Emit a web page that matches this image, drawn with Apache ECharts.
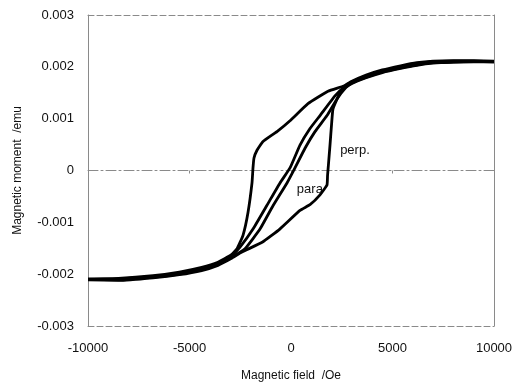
<!DOCTYPE html>
<html>
<head>
<meta charset="utf-8">
<script src="https://cdn.jsdelivr.net/npm/echarts@6/dist/echarts.min.js"></script>
<style>
  html, body { margin: 0; padding: 0; background: #fff; }
  #chart { width: 517px; height: 387px; }
</style>
</head>
<body>
<div id="chart"></div>
<script>
// Hysteresis loops: magnetic moment (emu) versus applied field (Oe)
const fieldTicks = [-10000, -5000, 0, 5000, 10000];
const momentTicks = [-0.003, -0.002, -0.001, 0, 0.001, 0.002, 0.003];

// perpendicular: descending branch (+H -> -H)
const perpDownField = [10000, 9000, 8000, 7000, 6200, 5400, 4500, 3700, 3000, 2600, 1823, 837, -49, -690, -1379, -1675, -1823, -1872, -1921, -2118, -2364, -2660, -2950, -3600, -4400, -5500, -6800, -8500, -10000];
const perpDownMoment = [0.00211, 0.00212, 0.00212, 0.00211, 0.00208, 0.00202, 0.00194, 0.00184, 0.00172, 0.00163, 0.00153, 0.00129, 0.00096, 0.00075, 0.00056, 0.00039, 0.00024, 0.00005, -0.00024, -0.00081, -0.00125, -0.00151, -0.00163, -0.00177, -0.00187, -0.00196, -0.00203, -0.00208, -0.00209];

// perpendicular: ascending branch (-H -> +H)
const perpUpField = [-10000, -8500, -6800, -5500, -4400, -3600, -2950, -2400, -1400, -550, 443, 936, 1429, 1773, 1800, 1850, 1921, 2000, 2069, 2414, 2700, 3000, 3700, 4500, 5400, 6200, 7000, 8000, 9000, 10000];
const perpUpMoment = [-0.00211, -0.00212, -0.00207, -0.00201, -0.00193, -0.00183, -0.00170, -0.00157, -0.00138, -0.00113, -0.00077, -0.00066, -0.00047, -0.00028, -0.00010, 0.00014, 0.00049, 0.00090, 0.00119, 0.00150, 0.00161, 0.00168, 0.00179, 0.00189, 0.00197, 0.00203, 0.00207, 0.00209, 0.00210, 0.00209];

// parallel: descending branch
const paraDownField = [10000, 9000, 8000, 7000, 6200, 5400, 4500, 3700, 3000, 2700, 2167, 1429, 936, 443, -49, -542, -1182, -1872, -2512, -2950, -3600, -4400, -5500, -6800, -8500, -10000];
const paraDownMoment = [0.00210, 0.00211, 0.00211, 0.00210, 0.00206, 0.00200, 0.00192, 0.00182, 0.00171, 0.00164, 0.00144, 0.00106, 0.00081, 0.00049, 0.00005, -0.00024, -0.00067, -0.00113, -0.00148, -0.00166, -0.00180, -0.00190, -0.00199, -0.00205, -0.00209, -0.00210];

// parallel: ascending branch
const paraUpField = [-10000, -8500, -6800, -5500, -4400, -3600, -2950, -2266, -1527, -887, -197, 197, 690, 1182, 1773, 2266, 2700, 3000, 3700, 4500, 5400, 6200, 7000, 8000, 9000, 10000];
const paraUpMoment = [-0.00210, -0.00211, -0.00206, -0.00200, -0.00191, -0.00181, -0.00168, -0.00151, -0.00113, -0.00068, -0.00024, 0.00005, 0.00043, 0.00075, 0.00106, 0.00138, 0.00160, 0.00169, 0.00180, 0.00190, 0.00198, 0.00204, 0.00208, 0.00209, 0.00210, 0.00210];

// curve labels: [text, field, moment]
const curveLabels = [["perp.", 3150, 0.00039], ["para", 930, -0.00037]];

const FONT = "'Liberation Sans', Arial, sans-serif";
const FRAME = "#8a8a8a";
const pairs = (xs, ys) => xs.map((x, i) => [x, ys[i]]);
const fmtMoment = v => (Math.abs(v) < 1e-12 ? "0" : v.toFixed(3));
const fmtField = v => String(Math.round(v));

const branch = (name, xs, ys, extra) => Object.assign({
  name: name,
  type: "line",
  data: pairs(xs, ys),
  showSymbol: false,
  smooth: 0.12,
  lineStyle: { color: "#000", width: 2.8 },
  z: 5,
  silent: true
}, extra || {});

// frame-only axis (no labels)
const frameAxis = (pos, extra) => Object.assign({
  type: "value", position: pos,
  axisTick: { show: false },
  axisLabel: { show: false },
  splitLine: { show: false }
}, extra);

const chart = echarts.init(document.getElementById("chart"), null, { renderer: "canvas" });
chart.setOption({
  animation: false,
  backgroundColor: "#fff",
  textStyle: { fontFamily: FONT },
  grid: { left: 88, right: 23, top: 15, bottom: 57, show: false },
  xAxis: [
    {
      type: "value",
      min: fieldTicks[0], max: fieldTicks[fieldTicks.length - 1], interval: 5000,
      name: "Magnetic field  /Oe", nameLocation: "middle", nameGap: 44,
      nameTextStyle: { fontSize: 12, color: "#111", fontFamily: FONT },
      axisLine: { onZero: false, lineStyle: { color: FRAME, width: 1, type: [6, 3] } },
      axisTick: { show: false },
      splitLine: { show: false },
      axisLabel: { fontSize: 13, color: "#111", margin: 16, fontFamily: FONT, formatter: fmtField }
    },
    frameAxis("top", {
      min: fieldTicks[0], max: fieldTicks[fieldTicks.length - 1], interval: 5000,
      axisLine: { onZero: true, lineStyle: { color: FRAME, width: 1, type: [10, 3, 2, 3] } },
      axisTick: { show: true, inside: true, length: 3, lineStyle: { color: FRAME } }
    }),
    frameAxis("top", {
      min: fieldTicks[0], max: fieldTicks[fieldTicks.length - 1], interval: 5000,
      axisLine: { onZero: false, lineStyle: { color: FRAME, width: 1, type: [6, 3] } }
    })
  ],
  yAxis: [
    {
      type: "value",
      min: momentTicks[0], max: momentTicks[momentTicks.length - 1], interval: 0.001,
      name: "Magnetic moment  /emu", nameLocation: "middle", nameGap: 64,
      nameTextStyle: { fontSize: 12, color: "#111", fontFamily: FONT },
      axisLine: { show: true, onZero: false, lineStyle: { color: FRAME, width: 1 } },
      axisTick: { show: false },
      splitLine: { show: false },
      axisLabel: { fontSize: 13, color: "#111", margin: 14, fontFamily: FONT, formatter: fmtMoment }
    },
    frameAxis("right", {
      min: momentTicks[0], max: momentTicks[momentTicks.length - 1], interval: 0.001,
      axisLine: { show: true, onZero: false, lineStyle: { color: FRAME, width: 1 } }
    })
  ],
  series: [
    branch("perp-down", perpDownField, perpDownMoment, {
      markPoint: {
        symbol: "circle", symbolSize: 0, silent: true,
        label: {
          show: true, position: "inside", fontSize: 13, color: "#111", fontFamily: FONT,
          formatter: p => p.name
        },
        data: curveLabels.map(l => ({ name: l[0], coord: [l[1], l[2]] }))
      }
    }),
    branch("perp-up", perpUpField, perpUpMoment),
    branch("para-down", paraDownField, paraDownMoment),
    branch("para-up", paraUpField, paraUpMoment)
  ]
});
</script>
</body>
</html>
